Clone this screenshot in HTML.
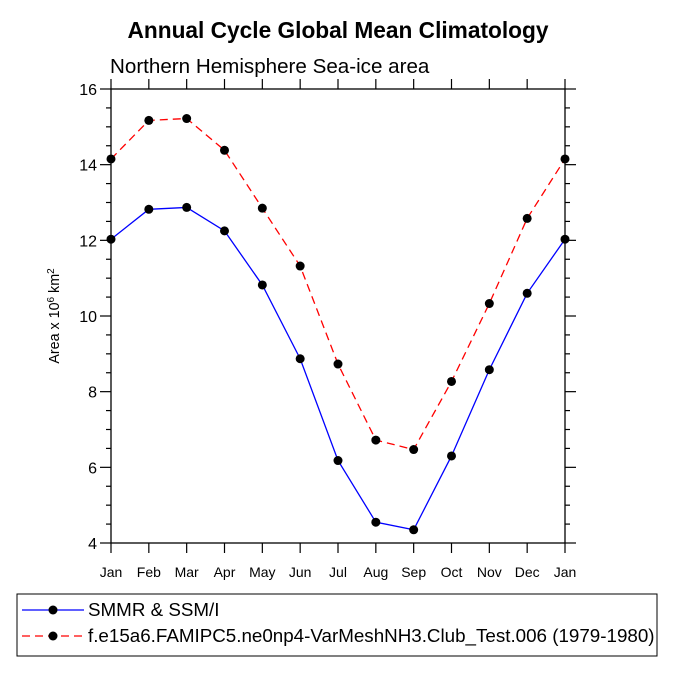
<!DOCTYPE html>
<html><head><style>
body{margin:0;background:#fff;}
svg text{font-family:"Liberation Sans",Helvetica,sans-serif;}
</style></head><body>
<svg id="chart" width="675" height="675" xmlns="http://www.w3.org/2000/svg">
<text x="338" y="38" text-anchor="middle" font-size="22.7" font-weight="bold">Annual Cycle Global Mean Climatology</text>
<text x="110" y="73" font-size="20.6">Northern Hemisphere Sea-ice area</text>
<text transform="translate(59,316) rotate(-90)" text-anchor="middle" font-size="14.3">Area x 10<tspan dy="-5" font-size="10">6</tspan><tspan dy="5"> km</tspan><tspan dy="-5" font-size="10">2</tspan></text>
<g id="axes"></g>
<g id="series"></g>
<rect x="17" y="594" width="640" height="62" fill="none" stroke="#000" stroke-width="1"/>
<g>
<line x1="22" y1="610" x2="84" y2="610" stroke="#0000ff" stroke-width="1.3"/>
<circle cx="53" cy="610" r="4.5" fill="#000"/>
<text x="88" y="616" font-size="18.8">SMMR &amp; SSM/I</text>
</g>
<g>
<line x1="22" y1="636" x2="84" y2="636" stroke="#ff0000" stroke-width="1.3" stroke-dasharray="8,5"/>
<circle cx="53" cy="636" r="4.5" fill="#000"/>
<text x="88" y="642" font-size="18.8">f.e15a6.FAMIPC5.ne0np4-VarMeshNH3.Club_Test.006 (1979-1980)</text>
</g>
</svg>
<script>
const months=["Jan","Feb","Mar","Apr","May","Jun","Jul","Aug","Sep","Oct","Nov","Dec","Jan"];
const obsValues=[12.03,12.82,12.87,12.25,10.82,8.87,6.18,4.55,4.35,6.3,8.58,10.6,12.03];
const modelValues=[14.15,15.17,15.22,14.38,12.85,11.32,8.73,6.72,6.47,8.27,10.33,12.58,14.15];
const yTicks=[4,6,8,10,12,14,16];
const X0=111,X1=565,Y0=543,Y1=89,YMIN=4,YMAX=16;
const xs=i=>X0+(X1-X0)*i/(months.length-1);
const ys=v=>Y0-(Y0-Y1)*(v-YMIN)/(YMAX-YMIN);
const NS="http://www.w3.org/2000/svg";
function mk(t,a,p){const e=document.createElementNS(NS,t);for(const k in a)e.setAttribute(k,a[k]);p.appendChild(e);return e;}
const ax=document.getElementById('axes');
const fr=mk('rect',{x:X0,y:Y1,width:X1-X0,height:Y0-Y1,fill:'none',stroke:'#000','stroke-width':1.3},ax);


months.forEach((m,i)=>{const x=xs(i);
mk('line',{x1:x,y1:Y0,x2:x,y2:Y0+10,stroke:'#000','stroke-width':1.2},ax);
mk('line',{x1:x,y1:Y1,x2:x,y2:Y1-10,stroke:'#000','stroke-width':1.2},ax);
const t=mk('text',{x:x,y:Y0+34,'text-anchor':'middle','font-size':14},ax);t.textContent=m;

});
for(let v=YMIN;v<=YMAX+1e-9;v+=0.5){const y=ys(v);const maj=Math.abs(v-Math.round(v/2)*2)<1e-9;const L=maj?11:5;
mk('line',{x1:X0,y1:y,x2:X0-L,y2:y,stroke:'#000','stroke-width':1.2},ax);
mk('line',{x1:X1,y1:y,x2:X1+L,y2:y,stroke:'#000','stroke-width':1.2},ax);}
yTicks.forEach(v=>{const t=mk('text',{x:X0-14,y:ys(v)+6,'text-anchor':'end','font-size':16},ax);t.textContent=v;

});
const sg=document.getElementById('series');
function series(vals,color,dash,name){const g=mk('g',{},sg);


mk('polyline',{points:vals.map((v,i)=>xs(i)+','+ys(v)).join(' '),fill:'none',stroke:color,'stroke-width':1.3,'stroke-dasharray':dash},g);
vals.forEach((v,i)=>{const c=mk('circle',{cx:xs(i),cy:ys(v),r:4.5,fill:'#000'},g);

});}
series(modelValues,'#ff0000','8,5','model-series');
series(obsValues,'#0000ff','none','obs-series');
</script>
</body></html>
